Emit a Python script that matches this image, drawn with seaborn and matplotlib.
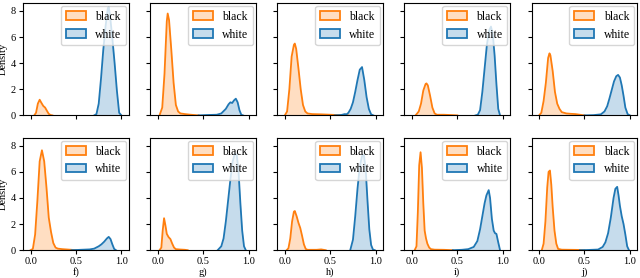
import matplotlib
matplotlib.use("Agg")
import matplotlib.pyplot as plt
from matplotlib.patches import Patch
import numpy as np
import pandas as pd
import seaborn as sns

panels = ["a", "b", "c", "d", "e", "f", "g", "h", "i", "j"]
groups = ["black", "white"]
colors = {"black": "#ff7f0e", "white": "#1f77b4"}

# density curves: score -> density, per panel
black_x = {
    "a": [0.04, 0.06, 0.08, 0.10, 0.12, 0.14, 0.16, 0.18, 0.20, 0.22, 0.24],
    "b": [0.02, 0.05, 0.075, 0.10, 0.11, 0.125, 0.15, 0.175, 0.20, 0.225, 0.25, 0.30, 0.35, 0.40, 0.45],
    "c": [0.0, 0.025, 0.05, 0.075, 0.10, 0.11, 0.125, 0.15, 0.175, 0.20, 0.225, 0.25, 0.30, 0.40, 0.50, 0.60, 0.70],
    "d": [0.04, 0.075, 0.10, 0.125, 0.15, 0.16, 0.175, 0.20, 0.225, 0.25, 0.275, 0.35, 0.45, 0.50],
    "e": [0.0, 0.025, 0.05, 0.075, 0.10, 0.115, 0.125, 0.15, 0.175, 0.20, 0.225, 0.25, 0.30, 0.35, 0.40, 0.45, 0.50],
    "f": [0.0, 0.025, 0.05, 0.075, 0.10, 0.125, 0.15, 0.175, 0.20, 0.225, 0.25, 0.275, 0.30, 0.35, 0.45, 0.50],
    "g": [0.02, 0.04, 0.055, 0.07, 0.085, 0.10, 0.12, 0.14, 0.16, 0.18, 0.20, 0.25, 0.30, 0.33],
    "h": [0.02, 0.04, 0.06, 0.08, 0.10, 0.11, 0.13, 0.15, 0.17, 0.19, 0.21, 0.23, 0.25, 0.35, 0.40, 0.45],
    "i": [0.03, 0.05, 0.065, 0.08, 0.095, 0.11, 0.125, 0.14, 0.155, 0.17, 0.19, 0.21, 0.25, 0.35, 0.45],
    "j": [0.03, 0.05, 0.07, 0.09, 0.105, 0.12, 0.135, 0.15, 0.17, 0.19, 0.21, 0.25, 0.35, 0.45, 0.50],
}
black_d = {
    "a": [0, 0.2, 0.9, 1.2, 0.95, 0.72, 0.6, 0.35, 0.12, 0.03, 0],
    "b": [0, 0.6, 3.2, 7.2, 7.8, 7.3, 5.0, 2.5, 0.8, 0.3, 0.15, 0.1, 0.06, 0.03, 0],
    "c": [0, 0.3, 2.0, 4.5, 5.4, 5.5, 5.1, 3.6, 2.0, 0.8, 0.3, 0.15, 0.1, 0.08, 0.05, 0.02, 0],
    "d": [0, 0.3, 0.9, 1.9, 2.4, 2.45, 2.3, 1.5, 0.6, 0.15, 0.05, 0.05, 0.02, 0],
    "e": [0, 0.2, 1.1, 2.5, 4.4, 4.75, 4.6, 3.4, 1.8, 0.9, 0.5, 0.25, 0.15, 0.12, 0.1, 0.05, 0],
    "f": [0, 0.1, 1.2, 3.8, 6.8, 7.65, 6.8, 4.8, 2.5, 1.4, 0.55, 0.2, 0.12, 0.08, 0.03, 0],
    "g": [0, 0.2, 1.5, 2.45, 1.9, 1.25, 1.0, 0.85, 0.5, 0.2, 0.08, 0.05, 0.03, 0],
    "h": [0, 0.15, 0.9, 2.2, 2.95, 3.0, 2.6, 2.1, 1.7, 1.1, 0.45, 0.1, 0.03, 0.03, 0.06, 0],
    "i": [0, 0.3, 2.9, 6.5, 7.5, 6.3, 3.6, 1.5, 0.9, 0.5, 0.2, 0.08, 0.04, 0.03, 0],
    "j": [0, 0.5, 2.2, 4.8, 6.0, 6.1, 5.0, 3.3, 1.5, 0.5, 0.1, 0.04, 0.03, 0.02, 0],
}
white_x = {
    "a": [0.70, 0.725, 0.75, 0.775, 0.80, 0.825, 0.85, 0.86, 0.875, 0.90, 0.925, 0.95, 0.975, 1.0],
    "b": [0.45, 0.55, 0.65, 0.70, 0.75, 0.78, 0.80, 0.82, 0.84, 0.86, 0.88, 0.90, 0.92, 0.94],
    "c": [0.55, 0.62, 0.66, 0.68, 0.70, 0.725, 0.75, 0.775, 0.80, 0.825, 0.85, 0.875, 0.90, 0.925, 0.95, 0.975],
    "d": [0.70, 0.725, 0.75, 0.775, 0.80, 0.825, 0.85, 0.87, 0.89, 0.91, 0.93, 0.95, 0.97],
    "e": [0.50, 0.60, 0.68, 0.72, 0.75, 0.775, 0.80, 0.825, 0.85, 0.87, 0.89, 0.91, 0.93, 0.95, 0.975, 1.0],
    "f": [0.45, 0.55, 0.65, 0.70, 0.75, 0.78, 0.81, 0.84, 0.86, 0.88, 0.90, 0.92, 0.94],
    "g": [0.66, 0.70, 0.725, 0.75, 0.775, 0.80, 0.825, 0.85, 0.87, 0.89, 0.91, 0.93, 0.95, 0.97],
    "h": [0.72, 0.75, 0.775, 0.80, 0.825, 0.85, 0.87, 0.89, 0.91, 0.93, 0.95, 0.97, 0.99],
    "i": [0.45, 0.55, 0.62, 0.68, 0.72, 0.75, 0.78, 0.80, 0.82, 0.845, 0.86, 0.88, 0.90, 0.915, 0.93, 0.95, 0.97],
    "j": [0.45, 0.55, 0.65, 0.70, 0.73, 0.76, 0.79, 0.82, 0.84, 0.86, 0.875, 0.89, 0.91, 0.93, 0.95, 0.97, 0.99],
}
white_d = {
    "a": [0, 0.1, 0.9, 2.8, 5.0, 6.8, 8.2, 8.3, 7.6, 5.9, 4.0, 1.9, 0.2, 0],
    "b": [0, 0.03, 0.05, 0.15, 0.5, 0.85, 1.0, 0.95, 1.15, 1.28, 1.0, 0.4, 0.05, 0],
    "c": [0, 0.03, 0.1, 0.08, 0.2, 0.5, 1.0, 1.8, 2.7, 3.5, 3.7, 2.7, 1.4, 0.5, 0.08, 0],
    "d": [0, 0.05, 0.4, 1.8, 3.6, 5.4, 6.5, 6.8, 6.2, 4.6, 2.4, 0.5, 0],
    "e": [0, 0.02, 0.08, 0.3, 0.7, 1.3, 1.95, 2.6, 3.0, 3.1, 2.9, 2.3, 1.5, 0.6, 0.1, 0],
    "f": [0, 0.03, 0.06, 0.12, 0.3, 0.45, 0.65, 0.9, 1.02, 0.85, 0.45, 0.1, 0],
    "g": [0, 0.3, 0.9, 2.2, 3.8, 5.4, 6.8, 7.4, 7.3, 6.0, 3.6, 1.5, 0.3, 0],
    "h": [0, 0.8, 2.6, 4.7, 6.4, 7.2, 7.3, 6.2, 3.8, 1.6, 0.4, 0.05, 0],
    "i": [0, 0.03, 0.08, 0.25, 0.7, 1.6, 2.8, 3.6, 4.2, 4.6, 4.0, 2.4, 1.5, 1.3, 1.25, 0.6, 0],
    "j": [0, 0.02, 0.05, 0.25, 0.6, 1.3, 2.5, 4.0, 4.7, 4.85, 4.2, 3.4, 2.6, 2.0, 1.2, 0.3, 0],
}

plt.rcParams["font.family"] = ["Liberation Serif", "DejaVu Serif"]
plt.rcParams["font.size"] = 7.5

fig, axes = plt.subplots(2, 5, figsize=(6.4, 2.78), dpi=100, sharex=True, sharey=True)
fig.subplots_adjust(left=0.036, right=0.996, top=0.989, bottom=0.1, wspace=0.2, hspace=0.2)

for ax, p in zip(axes.flat, panels):
    rows = []
    for g, xs, ds in [("black", black_x[p], black_d[p]), ("white", white_x[p], white_d[p])]:
        for xv, dv in zip(xs, ds):
            rows.append({"score": xv, "Density": dv, "group": g})
    df = pd.DataFrame(rows)
    for g in groups[::-1]:
        sub = df[df.group == g]
        ax.fill_between(sub.score, sub.Density, color=colors[g], alpha=0.25, linewidth=0)
    sns.lineplot(data=df, x="score", y="Density", hue="group", hue_order=groups,
                 palette=colors, ax=ax, legend=False, sort=False, linewidth=1.3)
    handles = [Patch(facecolor=matplotlib.colors.to_rgba(colors[g], 0.25),
                     edgecolor=colors[g], linewidth=1.3, label=g) for g in groups]
    ax.legend(handles=handles, loc="upper right", fontsize=8.5, handlelength=1.7,
              borderaxespad=0.25)
    ax.set_xlabel(p + ")", labelpad=1)
    ax.set_ylabel("")

axes[0, 0].set_ylabel("Density", labelpad=2)
axes[1, 0].set_ylabel("Density", labelpad=2)
axes[0, 0].set_xlim(-0.083, 1.083)
axes[0, 0].set_ylim(0, 8.6)
axes[0, 0].set_xticks([0.0, 0.5, 1.0])
axes[0, 0].set_yticks([0, 2, 4, 6, 8])
for ax in axes.flat:
    ax.tick_params(labelsize=7.5, length=3, pad=2)

fig.savefig("out.png", dpi=100)
